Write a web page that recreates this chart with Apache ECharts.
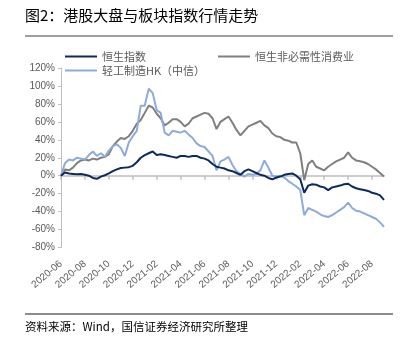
<!DOCTYPE html>
<html><head><meta charset="utf-8">
<script src="https://cdn.jsdelivr.net/npm/echarts@6/dist/echarts.min.js"></script>
<style>html,body{margin:0;padding:0;background:#fff}#c{width:409px;height:340px}</style>
</head><body><div id="c"></div>
<script>
const dates = [
'2020-06-01','2020-06-11','2020-06-21','2020-07-01','2020-07-11','2020-07-21','2020-08-01','2020-08-11','2020-08-21',
'2020-09-01','2020-09-11','2020-09-21','2020-10-01','2020-10-11','2020-10-21','2020-11-01','2020-11-11','2020-11-21',
'2020-12-01','2020-12-11','2020-12-21','2021-01-01','2021-01-11','2021-01-21','2021-02-01','2021-02-11','2021-02-21',
'2021-03-01','2021-03-11','2021-03-21','2021-04-01','2021-04-11','2021-04-21','2021-05-01','2021-05-11','2021-05-21',
'2021-06-01','2021-06-11','2021-06-21','2021-07-01','2021-07-11','2021-07-21','2021-08-01','2021-08-11','2021-08-21',
'2021-09-01','2021-09-11','2021-09-21','2021-10-01','2021-10-11','2021-10-21','2021-11-01','2021-11-11','2021-11-21',
'2021-12-01','2021-12-11','2021-12-21','2022-01-01','2022-01-11','2022-01-21','2022-02-01','2022-02-11','2022-02-21',
'2022-03-01','2022-03-11','2022-03-21','2022-04-01','2022-04-11','2022-04-21','2022-05-01','2022-05-11','2022-05-21',
'2022-06-01','2022-06-11','2022-06-21','2022-07-01','2022-07-11','2022-07-21','2022-08-01','2022-08-11','2022-08-21',
'2022-09-01'];
const tickLabels = ['2020-06','2020-08','2020-10','2020-12','2021-02','2021-04','2021-06','2021-08','2021-10','2021-12','2022-02','2022-04','2022-06','2022-08'];
const seriesNames = ['恒生指数','恒生非必需性消费业','轻工制造HK（中信）'];
const hsi = [
0, 3.5, 2.5, 2, 1.5, 2, 1, 0, -2.5, -3.5,
-1, 0.5, 2.5, 5, 7, 8.5, 9, 9.5, 11, 15,
20, 23, 25, 27, 23, 24, 23, 22, 21, 20,
22, 22, 21, 22, 22, 20, 19, 17, 13, 10,
9, 8, 6, 5, 3, 1, 5, 7, 5, 3,
1, 0, -2.5, -4, -2, -1, 1, 2, 2.5, 0,
-4, -19, -11, -9.5, -10, -12, -13, -16, -13, -12,
-11, -9.5, -9, -12, -14, -15, -16, -17, -19, -20,
-22, -27];
const consumer = [
0, 7, 6, 9, 14, 17, 18, 17, 19, 18,
20, 21, 24, 33, 38, 42, 41, 44, 50, 58,
62, 70, 78, 76, 69, 64, 56, 59, 63, 63,
60, 55, 58, 64, 66, 68, 70, 69, 64, 52,
60, 63, 66, 59, 51, 45, 50, 55, 57, 59,
61, 56, 53, 47, 44, 43, 40, 39, 37, 37,
25, -5, 13, 17, 10, 8, 6, 10, 13, 16,
18, 20, 26, 20, 17, 16, 15, 13, 10, 7,
3, -1];
const lightInd = [
0, 14, 18, 17, 20, 19, 18, 23, 27, 22,
25, 21, 28, 33, 35, 31, 22, 37, 44, 50,
78, 78, 97, 92, 73, 70, 48, 45, 50, 49,
48, 50, 46, 42, 36, 33, 32, 27, 22, 6,
16, 18, 21, 12, 5, 2, -1, 2, 1, 2,
6, 17, 9, 0, -1, 0, -2, -6, -9, -12,
-16, -44, -36, -38, -40, -43, -45, -46, -44, -41,
-38, -35, -30, -36, -39, -40, -42, -44, -46, -48,
-52, -57];

function monthPos(s){ const p = s.split('-').map(Number); return (p[0]-2020)*12 + (p[1]-6) + (p[2]-1)/30; }
const xs = dates.map(monthPos);
const xMax = xs[xs.length-1];
const tickVals = tickLabels.map(t=>monthPos(t+'-01'));
function pairs(arr){ return arr.map((v,i)=>[xs[i], v]); }

const FONT = '"Liberation Sans", "Noto Sans CJK SC", sans-serif';
const CJK = '"Noto Sans CJK SC", sans-serif';
const GRID = {left:61, width:323, top:68, height:179.5};

const chart = echarts.init(document.getElementById('c'), null, {renderer:'canvas'});
chart.setOption({
  animation:false,
  backgroundColor:'#fff',
  grid:[
    {left:GRID.left, width:GRID.width, top:GRID.top, height:GRID.height},
    {left:GRID.left, width:GRID.width, top:GRID.top, height:GRID.height}
  ],
  xAxis:[
    {type:'value', gridIndex:0, min:0, max:xMax, interval:2,
     axisLine:{show:true, onZero:true, lineStyle:{color:'#bfbfbf', width:1.5}},
     axisTick:{show:true, length:4, customValues:tickVals, lineStyle:{color:'#bfbfbf', width:1.5}},
     axisLabel:{show:false}, splitLine:{show:false}},
    {type:'value', gridIndex:1, min:0, max:xMax, interval:2,
     axisLine:{show:false, onZero:false}, axisTick:{show:false}, splitLine:{show:false},
     axisLabel:{show:true, rotate:40, margin:15, fontSize:10, color:'#595959', fontFamily:FONT,
       customValues:tickVals,
       formatter:function(v){ const i = tickVals.findIndex(t=>Math.abs(t-v)<1e-6); return i>=0 ? tickLabels[i] : ''; }}}
  ],
  yAxis:[
    {type:'value', gridIndex:0, min:-80, max:120, interval:20,
     axisLine:{show:true, lineStyle:{color:'#bfbfbf', width:1}},
     axisTick:{show:true, length:3, lineStyle:{color:'#bfbfbf'}},
     axisLabel:{margin:6, fontSize:10, color:'#595959', fontFamily:FONT, formatter:'{value}%'},
     splitLine:{show:false}},
    {type:'value', gridIndex:1, min:-80, max:120, show:false}
  ],
  legend:[
    {data:[seriesNames[0]], left:65, top:51, padding:0, icon:'rect', itemWidth:32, itemHeight:2,
     textStyle:{fontSize:11, color:'#595959', fontFamily:CJK}},
    {data:[seriesNames[1]], left:218, top:51, padding:0, icon:'rect', itemWidth:32, itemHeight:2,
     textStyle:{fontSize:11, color:'#595959', fontFamily:CJK}},
    {data:[seriesNames[2]], left:65, top:65, padding:0, icon:'rect', itemWidth:32, itemHeight:2,
     textStyle:{fontSize:11, color:'#595959', fontFamily:CJK}}
  ],
  series:[
    {name:seriesNames[1], type:'line', data:pairs(consumer), showSymbol:false, symbol:'none',
     lineStyle:{color:'#7f7f7f', width:2}, itemStyle:{color:'#7f7f7f'}},
    {name:seriesNames[2], type:'line', data:pairs(lightInd), showSymbol:false, symbol:'none',
     lineStyle:{color:'#8eaadb', width:2}, itemStyle:{color:'#8eaadb'}},
    {name:seriesNames[0], type:'line', data:pairs(hsi), showSymbol:false, symbol:'none',
     lineStyle:{color:'#0c2a5b', width:2}, itemStyle:{color:'#0c2a5b'}}
  ],
  graphic:[
    {type:'text', left:25, top:8, style:{text:'图2：港股大盘与板块指数行情走势', fontSize:15, fill:'#000', fontFamily:CJK}},
    {type:'line', shape:{x1:25, y1:36, x2:393, y2:36}, style:{stroke:'#404040', lineWidth:1}},
    {type:'line', shape:{x1:25, y1:314, x2:393, y2:314}, style:{stroke:'#8c8c8c', lineWidth:2}},
    {type:'text', left:25, top:321, style:{text:'资料来源：Wind，国信证券经济研究所整理', fontSize:11.5, fill:'#000', fontFamily:CJK}}
  ]
});
</script></body></html>
